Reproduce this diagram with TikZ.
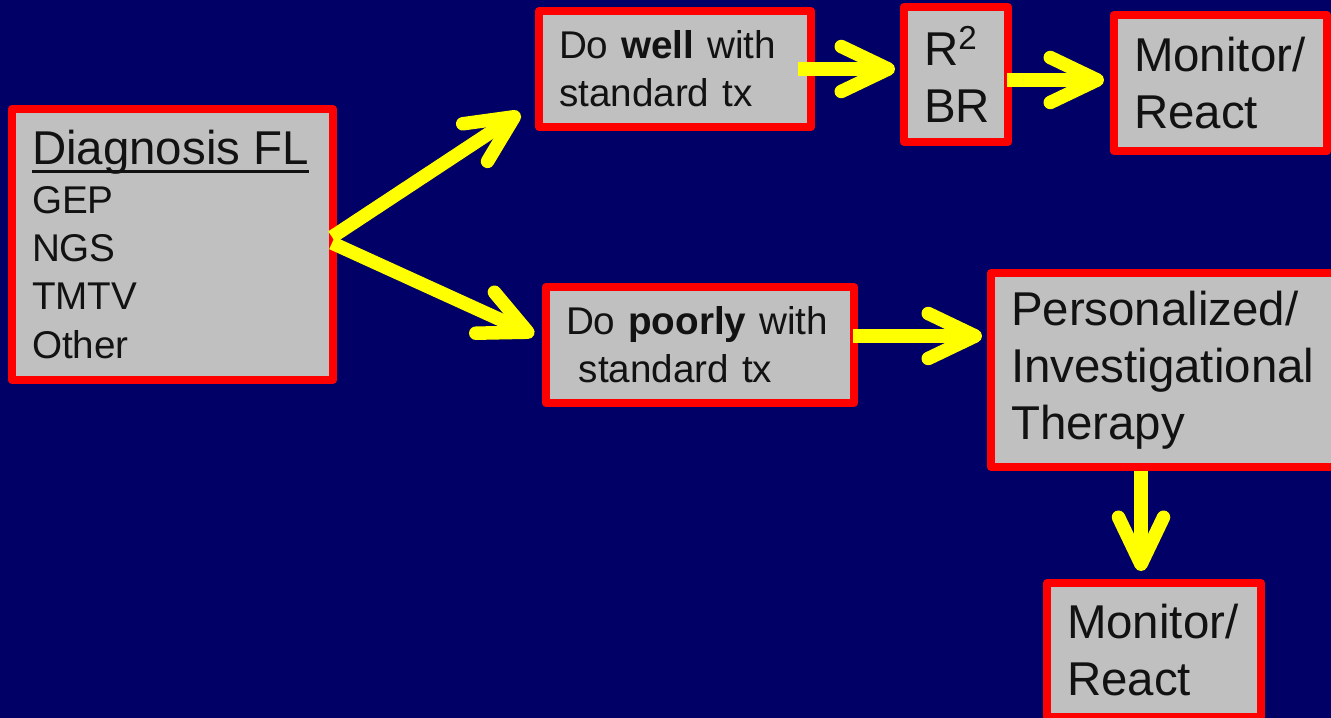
\documentclass[tikz,border=0pt]{standalone}
\usepackage{fontspec}
\setmainfont{Liberation Sans}
\usepackage{tikz}
\usetikzlibrary{arrows.meta}

\definecolor{slidebg}{HTML}{000066}
\definecolor{boxgray}{HTML}{C0C0C0}
\definecolor{boxred}{HTML}{FF0000}
\definecolor{flowyellow}{HTML}{FFFF00}

\newcommand{\largetxt}{\fontsize{27}{32.3}\selectfont}
\newcommand{\smalltxt}{\fontsize{22}{27.5}\selectfont}
% underline that runs through the descenders
\newcommand{\ulined}[1]{\setbox0=\hbox{#1}\rlap{\rule[-0.17cm]{\wd0}{0.06cm}}\box0}

\tikzstyle{stage} = [rectangle, draw=boxred, fill=boxgray, line width=0.16cm, line join=round, inner xsep=0.4cm, inner ysep=0pt, align=left, text=black!93]
\tikzstyle{flow} = [draw=flowyellow, line width=0.27cm, -{Straight Barb[round,length=0.94cm,width=0.9cm]}]

\begin{document}
\begin{tikzpicture}
    \useasboundingbox (0,0) rectangle (26.62,-14.36);
    \clip (0,0) rectangle (26.62,-14.36);
    \fill[slidebg] (0,0) rectangle (26.62,-14.36);

    % boxes
    \node[stage, font=\smalltxt, text width=5.62cm, minimum height=5.42cm] (diag) at (3.45,-4.89)
        {{\largetxt\ulined{Diagnosis FL}}\\GEP\\NGS\\TMTV\\Other};
    \node[stage, font=\smalltxt, text width=4.64cm, minimum height=2.32cm] (well) at (13.5,-1.38)
        {Do \textbf{well} with\\standard tx};
    \node[stage, font=\largetxt, text width=1.28cm, minimum height=2.7cm] (r2) at (19.12,-1.49)
        {R\textsuperscript{2}\\BR};
    \node[stage, font=\largetxt, text width=3.46cm, minimum height=2.72cm] (mon1) at (24.41,-1.66)
        {Monitor/\\React};
    \node[stage, font=\smalltxt, text width=5.36cm, minimum height=2.32cm] (poorly) at (14.0,-6.9)
        {Do \textbf{poorly} with\\~standard tx};
    \node[stage, font=\largetxt, text width=6.28cm, minimum height=3.88cm] (pers) at (23.36,-7.4)
        {Personalized/\\Investigational\\Therapy};
    \node[stage, font=\largetxt, text width=3.48cm, minimum height=2.68cm] (mon2) at (23.08,-13.0)
        {Monitor/\\React};

    % arrows
    \coordinate (wellout) at ([xshift=-0.34cm]well.east);
    \coordinate (r2out) at ([shift={(-0.1,-0.11)}]r2.east);
    \coordinate (poorout) at ([shift={(-0.1,0.18)}]poorly.east);
    \coordinate (mon2in) at ([xshift=-0.26cm]mon2.north);

    \draw[flow] ([shift={(-0.1,0.15)}]diag.east) -- ([shift={(-0.3,0.36)}]well.south west);
    \draw[flow] ([shift={(-0.1,0.03)}]diag.east) -- ([shift={(-0.16,0.2)}]poorly.west);
    \draw[flow, shorten >=0.1cm] (wellout) -- (wellout -| r2.west);
    \draw[flow, shorten >=0.12cm] (r2out) -- (r2out -| mon1.west);
    \draw[flow, shorten >=0.1cm] (poorout) -- (poorout -| pers.west);
    \draw[flow, shorten >=0.16cm] (mon2in |- pers.south) -- (mon2in);
\end{tikzpicture}
\end{document}
